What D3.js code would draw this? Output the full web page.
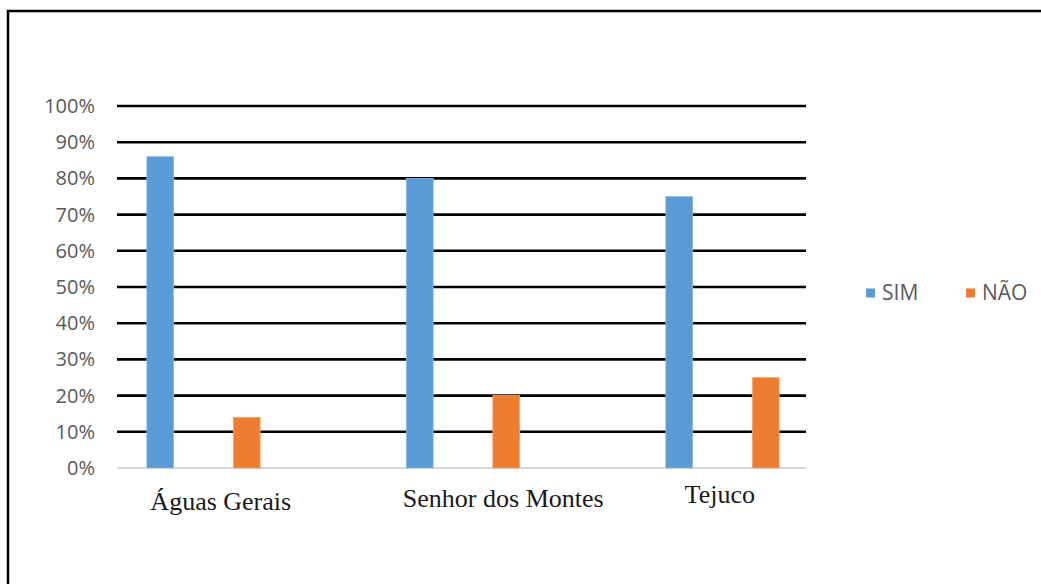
<!DOCTYPE html>
<html><head><meta charset="utf-8">
<script src="https://cdn.jsdelivr.net/npm/d3@7"></script>
<style>body{margin:0;background:#fff}svg{display:block}</style>
</head><body>
<svg id="c" width="1041" height="584"></svg>
<script>
const categories = ["Águas Gerais", "Senhor dos Montes", "Tejuco"];
const seriesNames = ["SIM", "NÃO"];
const simValues = [0.86, 0.80, 0.75];
const naoValues = [0.14, 0.20, 0.25];
const yTicks = [0, 0.1, 0.2, 0.3, 0.4, 0.5, 0.6, 0.7, 0.8, 0.9, 1.0];
const colors = ["#5B9BD5", "#ED7D31"];

// layout (not data)
const plot = {left: 117, right: 895.5, top: 106, bottom: 468, gridEnd: 806};
const labelShift = [{dx: -26, y: 510}, {dx: -3, y: 507}, {dx: -46, y: 503}];

const svg = d3.select("#c");

// frame (top and left edges visible)
svg.append("rect").attr("x", 8).attr("y", 11).attr("width", 1100).attr("height", 700)
  .attr("fill", "none").attr("stroke", "#000").attr("stroke-width", 2.5);

const y = d3.scaleLinear().domain([0, 1]).range([plot.bottom, plot.top]);
const x0 = d3.scaleBand().domain(categories).range([plot.left, plot.right]);
const x1 = d3.scaleBand().domain(["SIM", "NÃO", "_"]).range([0, x0.bandwidth()])
  .paddingInner(0.69).paddingOuter(0.345);

// gridlines
svg.append("g").selectAll("line").data(yTicks).join("line")
  .attr("x1", plot.left).attr("x2", plot.gridEnd)
  .attr("y1", d => y(d)).attr("y2", d => y(d))
  .attr("stroke", d => d === 0 ? "#d9d9d9" : "#000")
  .attr("stroke-width", d => d === 0 ? 2 : 2.6);

// y labels
const yAxis = svg.append("g").attr("transform", `translate(${plot.left},0)`)
  .call(d3.axisLeft(y).tickValues(yTicks).tickFormat(d3.format(".0%")).tickSize(0).tickPadding(22));
yAxis.select(".domain").remove();
yAxis.selectAll("text").attr("fill", "#595959")
  .style("font-family", "'Open Sans', 'Liberation Sans', sans-serif").style("font-size", "20px");

// bars
const rows = categories.map((c, i) => ({cat: c, vals: [simValues[i], naoValues[i]]}));
const grp = svg.append("g").selectAll("g").data(rows).join("g")
  .attr("transform", d => `translate(${x0(d.cat)},0)`);
grp.selectAll("rect").data(d => d.vals.map((v, j) => ({s: seriesNames[j], v, j}))).join("rect")
  .attr("x", d => x1(d.s)).attr("width", x1.bandwidth())
  .attr("y", d => y(d.v)).attr("height", d => y(0) - y(d.v))
  .attr("fill", d => colors[d.j])
  .attr("stroke", d => d.j === 0 ? "#8DB9E4" : "#F3A675").attr("stroke-width", 0.8);

// x labels
const xAxis = svg.append("g")
  .call(d3.axisBottom(x0).tickSize(0));
xAxis.select(".domain").remove();
xAxis.selectAll(".tick").attr("transform", (d, i) => `translate(${x0(d) + x0.bandwidth() / 2 + labelShift[i].dx},0)`);
xAxis.selectAll("text").attr("y", (d, i) => labelShift[i].y).attr("dy", null)
  .attr("fill", "#1a1a1a")
  .style("font-family", "'Liberation Serif', 'Times New Roman', serif").style("font-size", "26px");

// legend
const legendPos = [866, 966];
const leg = svg.append("g").selectAll("g").data(seriesNames).join("g")
  .attr("transform", (d, i) => `translate(${legendPos[i]},293)`);
leg.append("rect").attr("x", 0).attr("y", -4.5).attr("width", 9).attr("height", 9)
  .attr("fill", (d, i) => colors[i]);
leg.append("text").attr("x", 16).attr("y", 0).attr("dy", "0.35em").text(d => d)
  .attr("fill", "#595959")
  .style("font-family", "'Open Sans', 'Liberation Sans', sans-serif").style("font-size", "21px");
</script>
</body></html>
